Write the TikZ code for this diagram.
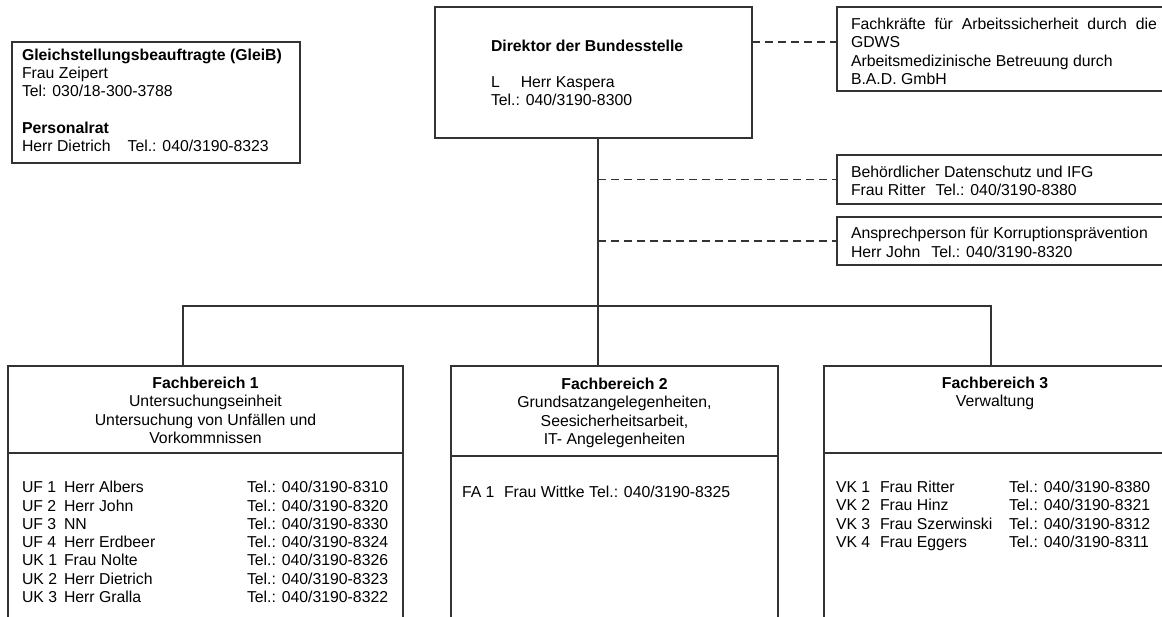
\documentclass[tikz,border=0pt]{standalone}
\usepackage{fontspec}
\setmainfont{Liberation Sans}
\begin{document}
\begin{tikzpicture}[x=1pt,y=-1pt,
  box/.style={draw=black!80, line width=1.1pt, inner sep=0pt, outer sep=0pt},
  conn/.style={draw=black!80, line width=1.1pt},
  dconn/.style={conn, dash pattern=on 8pt off 5pt},
  txt/.style={inner sep=0pt, outer sep=0pt, anchor=base west, align=left, font=\fontsize{15.8}{18.3}\selectfont},
  ctxt/.style={txt, anchor=base, align=center}]
\useasboundingbox (0,0) rectangle (1162,616);
\fill[white] (0,0) rectangle (1162,616);
\clip (0,0) rectangle (1162,616);

% boxes
\node[box, minimum width=288pt, minimum height=121pt] (gleib) at (156,102.5) {};
\node[box, minimum width=317pt, minimum height=131pt] (dir) at (593.5,72.5) {};
\node[box, minimum width=333pt, minimum height=84pt] (tr1) at (1003.5,49) {};
\node[box, minimum width=333pt, minimum height=49pt] (tr2) at (1003.5,179.5) {};
\node[box, minimum width=333pt, minimum height=48pt] (tr3) at (1003.5,241) {};
\node[box, minimum width=395pt, minimum height=259pt] (fb1) at (205.5,495.5) {};
\node[box, minimum width=327pt, minimum height=259pt] (fb2) at (614.5,495.5) {};
\node[box, minimum width=342pt, minimum height=259pt] (fb3) at (995,495.5) {};

% dividers
\coordinate (div1) at (0,453);
\coordinate (div2) at (0,456);
\draw[conn] (fb1.west |- div1) -- (fb1.east |- div1);
\draw[conn] (fb2.west |- div2) -- (fb2.east |- div2);
\draw[conn] (fb3.west |- div1) -- (fb3.east |- div1);

% connectors
\coordinate (trunk) at (598,306);
\coordinate (jl) at (183,306);
\coordinate (jr) at (991,306);
\coordinate (d1) at (0,42);
\draw[conn] (trunk |- dir.south) -- (trunk |- fb2.north);
\draw[conn] (jl |- fb1.north) -- (jl) -- (jr) -- (jr |- fb3.north);
\draw[dconn] (dir.east |- d1) -- (tr1.west |- d1);
\draw[dconn] (trunk |- tr2.west) -- (tr2.west);
\draw[dconn] (trunk |- tr3.west) -- (tr3.west);

% texts (anchor = baseline of the last line)
\node[txt] (gleibtxt) at (22,151.5) {\textbf{Gleichstellungsbeauftragte (GleiB)}\\Frau Zeipert\\Tel: 030/18-300-3788\\[18.3pt]\textbf{Personalrat}\\Herr Dietrich\hspace{17pt}Tel.: 040/3190-8323};
\node[txt] (dirtxt) at (491,105.5) {\textbf{Direktor der Bundesstelle}\\[17.7pt]L\hspace{21pt}Herr Kaspera\\Tel.: 040/3190-8300};
\node[txt] (tr1txt) at (851,84.5) {\makebox[306pt][s]{Fachkräfte für Arbeitssicherheit durch die}\\GDWS\\Arbeitsmedizinische Betreuung durch\\B.A.D. GmbH};
\node[txt] (tr2txt) at (851,195.5) {Behördlicher Datenschutz und IFG\\Frau Ritter\hspace{10pt}Tel.: 040/3190-8380};
\node[txt] (tr3txt) at (851,257) {Ansprechperson für Korruptionsprävention\\Herr John\hspace{11pt}Tel.: 040/3190-8320};

\node[ctxt] (fb1h) at (205.5,443.4) {\textbf{Fachbereich 1}\\Untersuchungseinheit\\Untersuchung von Unfällen und\\Vorkommnissen};
\node[ctxt] (fb2h) at (614.5,444.4) {\textbf{Fachbereich 2}\\Grundsatzangelegenheiten,\\Seesicherheitsarbeit,\\IT- Angelegenheiten};
\node[ctxt] (fb3h) at (995,406.8) {\textbf{Fachbereich 3}\\Verwaltung};

\node[txt] (fb1c) at (22,602.5) {UF 1\\UF 2\\UF 3\\UF 4\\UK 1\\UK 2\\UK 3};
\node[txt] (fb1n) at (64,602.5) {Herr Albers\\Herr John\\NN\\Herr Erdbeer\\Frau Nolte\\Herr Dietrich\\Herr Gralla};
\node[txt] (fb1t) at (247,602.5) {Tel.: 040/3190-8310\\Tel.: 040/3190-8320\\Tel.: 040/3190-8330\\Tel.: 040/3190-8324\\Tel.: 040/3190-8326\\Tel.: 040/3190-8323\\Tel.: 040/3190-8322};

\node[txt] (fb2l) at (462,497.5) {\makebox[42pt][l]{FA 1}Frau Wittke Tel.: 040/3190-8325};

\node[txt] (fb3c) at (836,547.5) {VK 1\\VK 2\\VK 3\\VK 4};
\node[txt] (fb3n) at (880,547.5) {Frau Ritter\\Frau Hinz\\Frau Szerwinski\\Frau Eggers};
\node[txt] (fb3t) at (1009,547.5) {Tel.: 040/3190-8380\\Tel.: 040/3190-8321\\Tel.: 040/3190-8312\\Tel.: 040/3190-8311};
\end{tikzpicture}
\end{document}
